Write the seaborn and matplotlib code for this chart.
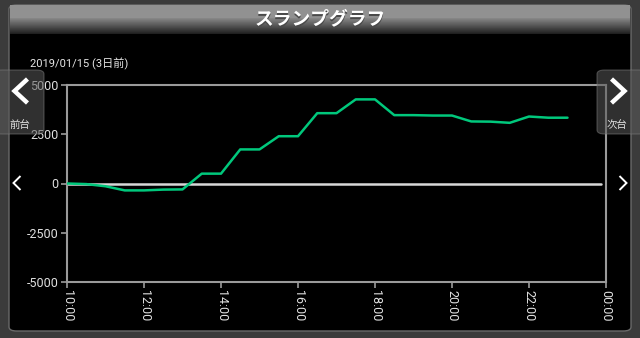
import numpy as np
import pandas as pd
import matplotlib
matplotlib.use("Agg")
import matplotlib.pyplot as plt
import seaborn as sns
from matplotlib.patches import FancyBboxPatch
from matplotlib.lines import Line2D

# ---- data ----
hours = [10.0, 10.5, 11.0, 11.5, 12.0, 12.5, 13.0, 13.5, 14.0, 14.5, 15.0, 15.5,
         16.0, 16.5, 17.0, 17.5, 18.0, 18.5, 19.0, 19.5, 20.0, 20.5, 21.0, 21.5,
         22.0, 22.5, 23.0]
values = [0, -30, -140, -350, -350, -310, -300, 500, 500, 1730, 1730, 2400,
          2400, 3570, 3570, 4270, 4270, 3470, 3470, 3450, 3450, 3150, 3140, 3080,
          3400, 3340, 3340]
xtick_pos = [10, 12, 14, 16, 18, 20, 22, 24]
xtick_labels = ["10:00", "12:00", "14:00", "16:00", "18:00", "20:00", "22:00", "00:00"]
ytick_vals = [-5000, -2500, 0, 2500, 5000]
title = "スランプグラフ"
date_text = "2019/01/15 (3日前)"
prev_label = "前台"
next_label = "次台"

df = pd.DataFrame({"hour": hours, "value": values})

sns.set_theme(style="dark")
plt.rcParams["font.family"] = ["Roboto", "Noto Sans CJK JP", "DejaVu Sans"]
JP = ["Noto Sans CJK JP", "DejaVu Sans"]

W, H = 640, 338
fig = plt.figure(figsize=(W / 100, H / 100), dpi=100)
fig.patch.set_facecolor("#3b3b3b")

def px(x0, y0, w, h):
    """pixel box (top-left origin) -> figure fraction rect"""
    return [x0 / W, 1 - (y0 + h) / H, w / W, h / H]

def fx(x):
    return x / W

def fy(y):
    return 1 - y / H

# black inner panel
fig.patches.append(FancyBboxPatch((fx(9), fy(331)), 622 / W, 326 / H,
                                  boxstyle="round,pad=0,rounding_size=0.012",
                                  transform=fig.transFigure, facecolor="black",
                                  edgecolor="#6a6a6a", linewidth=1.0, zorder=-5))

# title bar gradient
tax = fig.add_axes(px(10, 5, 620, 29))
grad = np.concatenate([np.full(13, 0.57), np.linspace(0.52, 0.13, 16)])
tax.imshow(grad[:, None], aspect="auto", cmap="gray", vmin=0, vmax=1,
           extent=[0, 1, 0, 1])
tax.set_axis_off()
tax.text(0.501, 0.47, title, color="#4a4a4a", fontsize=13.5, fontweight="bold",
         ha="center", va="center", family=JP, transform=tax.transAxes)
tax.text(0.5, 0.52, title, color="white", fontsize=13.5, fontweight="bold",
         ha="center", va="center", family=JP, transform=tax.transAxes)

# main axes
ax = fig.add_axes(px(67, 85, 539, 197))
ax.set_facecolor("black")
sns.lineplot(data=df, x="hour", y="value", ax=ax, color="#00c87c",
             linewidth=1.8, zorder=3)
ax.axhline(0, xmax=0.99, color="#d8d8d8", linewidth=1.8, zorder=2)
ax.set_xlim(10, 24)
ax.set_ylim(-5000, 5000)
ax.set_xticks(xtick_pos)
ax.set_xticklabels(xtick_labels, rotation=-90)
ax.set_yticks(ytick_vals)
ax.set_yticklabels([str(v) for v in ytick_vals])
ax.set_xlabel("")
ax.set_ylabel("")
ax.grid(False)
for s in ax.spines.values():
    s.set_visible(True)
    s.set_color("#9a9a9a")
    s.set_linewidth(1.5)
ax.tick_params(axis="both", colors="#9a9a9a", labelcolor="#e0e0e0",
               labelsize=9, length=4, width=1.2, direction="out",
               bottom=True, left=True, pad=2)

fig.text(fx(30), fy(64), date_text, color="#e8e8e8", fontsize=8,
         ha="left", va="center", family=["Roboto", "Noto Sans CJK JP"])

# side buttons
for x0 in (-6, 597):
    fig.patches.append(FancyBboxPatch((fx(x0), fy(134)), 50 / W, 64 / H,
                                      boxstyle="round,pad=0,rounding_size=0.012",
                                      transform=fig.transFigure,
                                      facecolor=(0.35, 0.35, 0.35, 0.55),
                                      edgecolor=(0.5, 0.5, 0.5, 0.5),
                                      linewidth=0.8, zorder=5))

def chevron(cx, cy, w, h, lw, direction):
    s = -1 if direction == "left" else 1
    xs = [fx(cx - s * w / 2), fx(cx + s * w / 2), fx(cx - s * w / 2)]
    ys = [fy(cy - h / 2), fy(cy), fy(cy + h / 2)]
    fig.lines.append(Line2D(xs, ys, transform=fig.transFigure, color="white",
                            linewidth=lw, solid_joinstyle="miter",
                            solid_capstyle="butt", zorder=6))

chevron(21, 91, 13, 24, 3.2, "left")
chevron(618, 91, 13, 24, 3.2, "right")
chevron(17, 183, 7, 14, 1.4, "left")
chevron(623, 183, 7, 14, 1.4, "right")

fig.text(fx(20), fy(125), prev_label, color="#e0e0e0", fontsize=7.5,
         ha="center", va="center", family=JP, zorder=6)
fig.text(fx(617), fy(125), next_label, color="#e0e0e0", fontsize=7.5,
         ha="center", va="center", family=JP, zorder=6)

fig.savefig("out.png", dpi=100, facecolor=fig.get_facecolor())
